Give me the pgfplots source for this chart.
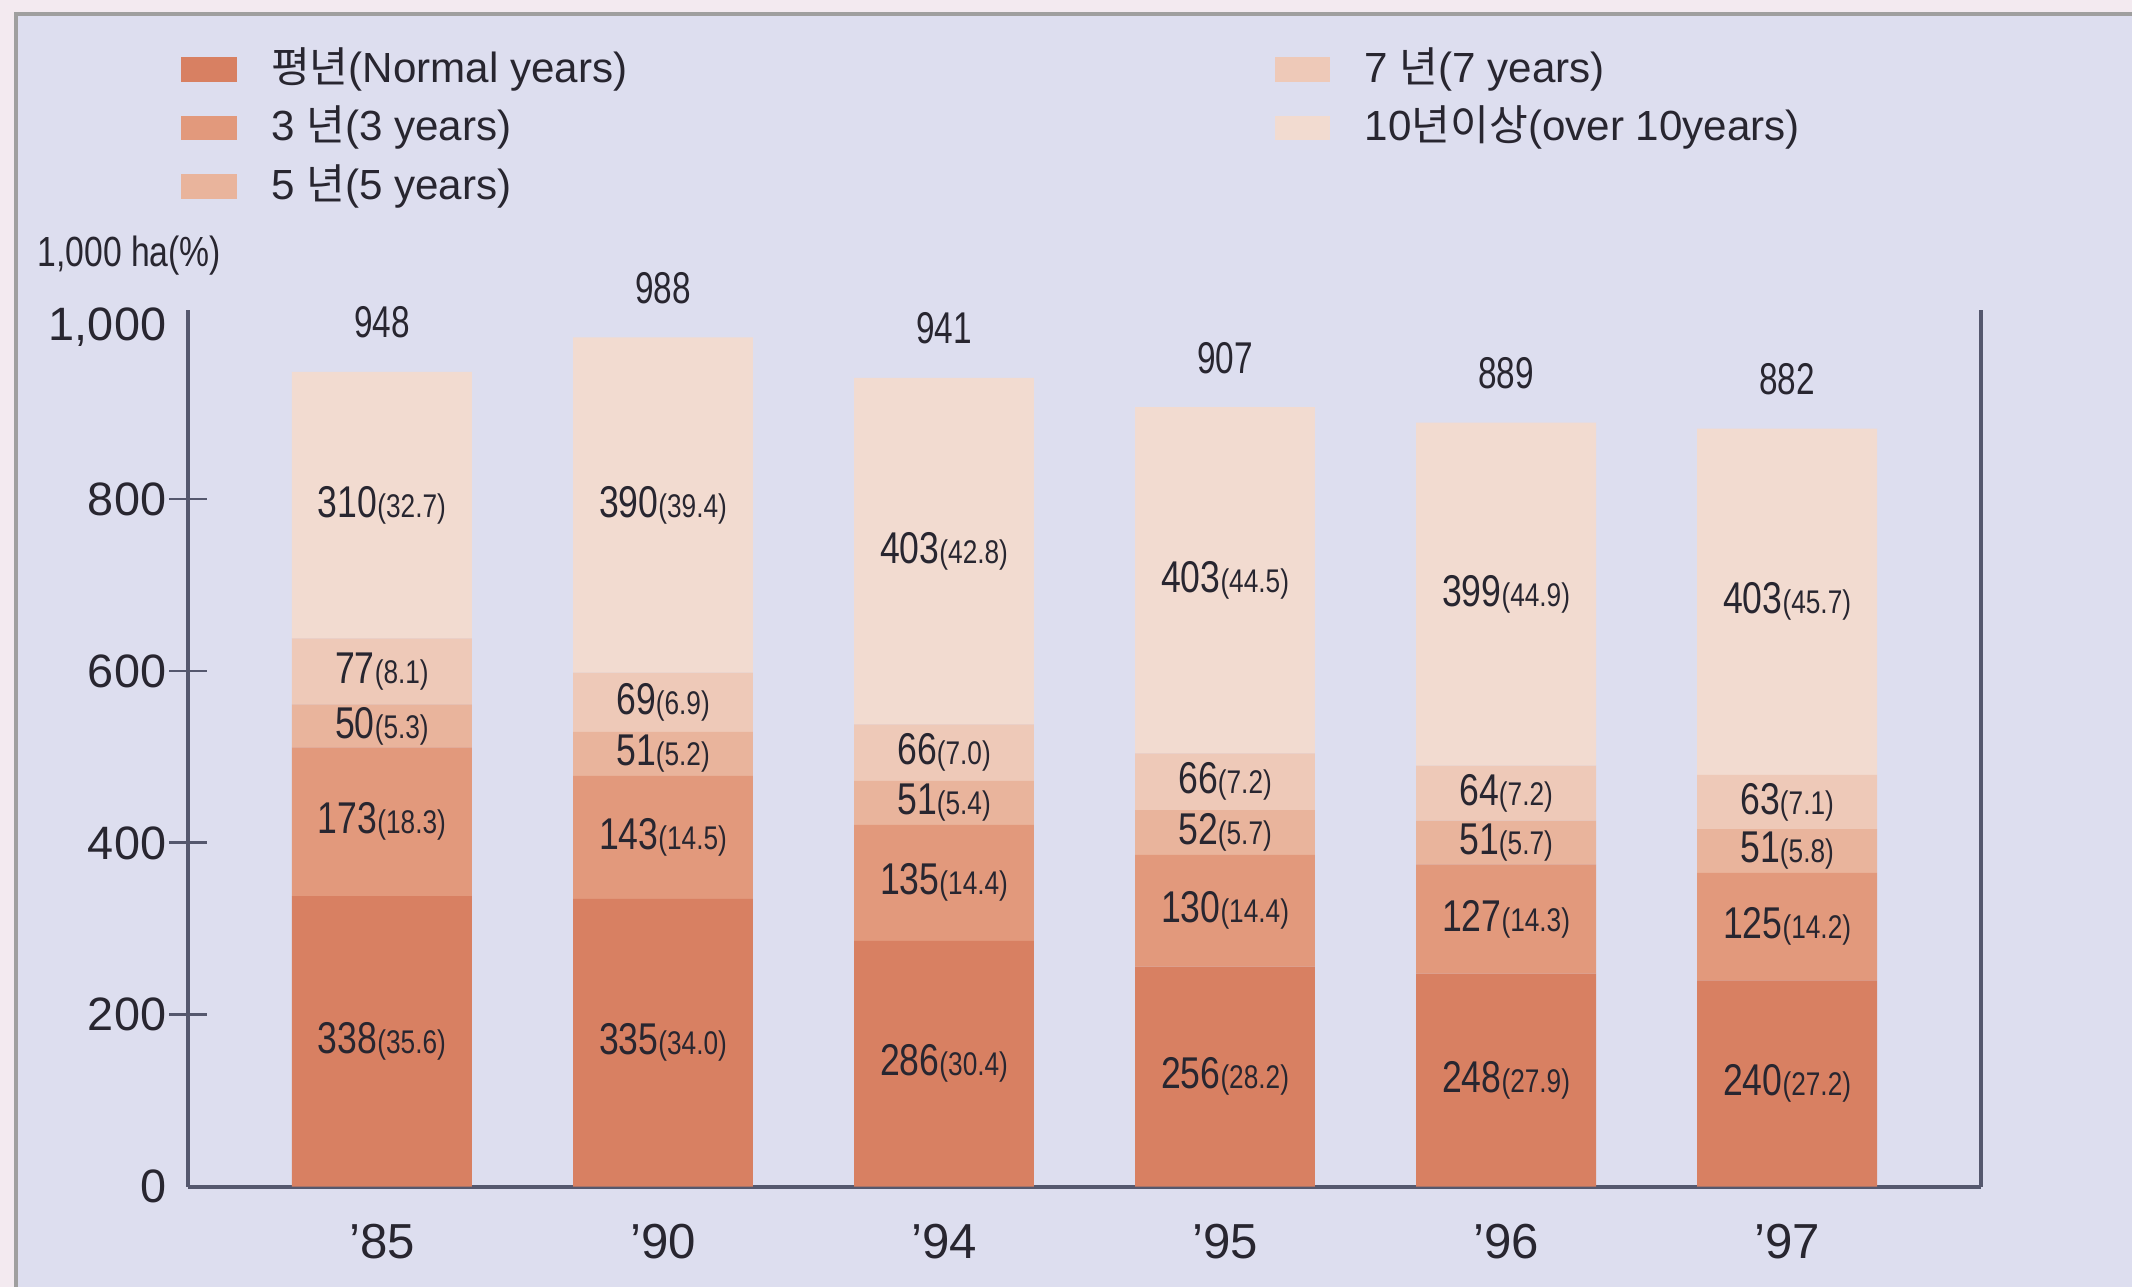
\documentclass[border=0pt]{standalone}
\usepackage{fontspec}
\setmainfont{Liberation Sans}
\newfontfamily\cjk{Noto Sans CJK KR}
\usepackage{graphicx}
\usepackage{pgfplots}
\pgfplotsset{compat=1.18}
\definecolor{bg}{RGB}{221,222,239}
\definecolor{outerbg}{RGB}{243,234,240}
\definecolor{c1}{RGB}{216,128,98}
\definecolor{c2}{RGB}{226,153,124}
\definecolor{c3}{RGB}{233,180,156}
\definecolor{c4}{RGB}{238,201,184}
\definecolor{c5}{RGB}{242,219,208}
\definecolor{axc}{RGB}{85,88,110}
\definecolor{txt}{RGB}{40,38,48}
\newcommand{\lab}[2]{\scalebox{0.8}[1]{\fontsize{9.5}{10}\selectfont #1\fontsize{7}{8}\selectfont(#2)}}
\newcommand{\tot}[1]{\scalebox{0.75}[1]{\fontsize{9.5}{10}\selectfont #1}}
\begin{document}
\begin{tikzpicture}
\useasboundingbox (-1.411,-0.751) rectangle (14.589,8.906);
\fill[outerbg] (-1.411,-0.751) rectangle (14.589,8.906);
\filldraw[fill=bg, draw=gray!75, line width=0.8pt] (-1.291,-1.0) rectangle (15.0,8.801);
\begin{axis}[
  at={(0,0)}, anchor=south west,
  scale only axis, width=13.456cm, height=6.58cm,
  ybar stacked, bar width=0.64,
  xmin=-0.69, xmax=5.69, ymin=0, ymax=1020,
  axis x line*=bottom, axis y line*=left,
  axis line style={axc, line width=0.8pt},
  xtick={0,1,2,3,4,5},
  xticklabels={’85,’90,’94,’95,’96,’97},
  x tick style={draw=none},
  xticklabel style={font=\fontsize{10.5}{12}\selectfont, text=txt, yshift=-0.02cm},
  ytick={200,400,600,800},
  yticklabels={200,400,600,800},
  extra y ticks={0,1000},
  extra y tick labels={0,{1,000}},
  extra y tick style={major tick style={draw=none}},
  tick align=center, major tick length=0.28cm,
  y tick style={axc, line width=0.6pt},
  yticklabel style={font=\fontsize{10}{12}\selectfont, text=txt, xshift=0.1cm},
  ylabel={\scalebox{0.8}[1]{1,000 ha(\%)}},
  every axis y label/.style={at={(axis description cs:0,1)}, anchor=center, xshift=-0.44cm, yshift=0.41cm, font=\fontsize{9}{10}\selectfont, text=txt},
  clip=false,
]
\addplot[fill=c1, draw=none] coordinates {(0,338) (1,335) (2,286) (3,256) (4,248) (5,240)};
\addplot[fill=c2, draw=none] coordinates {(0,173) (1,143) (2,135) (3,130) (4,127) (5,125)};
\addplot[fill=c3, draw=none] coordinates {(0,50) (1,51) (2,51) (3,52) (4,51) (5,51)};
\addplot[fill=c4, draw=none] coordinates {(0,77) (1,69) (2,66) (3,66) (4,64) (5,63)};
\addplot[fill=c5, draw=none] coordinates {(0,310) (1,390) (2,403) (3,403) (4,399) (5,403)};
\draw[axc, line width=0.8pt] (rel axis cs:1,0) -- (rel axis cs:1,1);
\end{axis}
\begin{axis}[
  at={(0,0)}, anchor=south west,
  scale only axis, width=13.456cm, height=6.58cm,
  xmin=-0.69, xmax=5.69, ymin=0, ymax=1020,
  hide axis, clip=false,
  legend columns=2, legend cell align=left,
  legend style={at={(axis description cs:0,1)}, anchor=north west, xshift=-0.05cm, yshift=2.0cm,
    draw=none, fill=none, inner sep=0pt, outer sep=0pt, row sep=0.05cm,
    font=\fontsize{9}{11}\selectfont, text=txt,
    nodes={inner sep=0.03cm, text height=0.26cm, text depth=0.07cm},
    /tikz/every odd column/.append style={column sep=0.23cm},
    /tikz/every even column/.append style={column sep=4.83cm}},
]
\addlegendimage{legend image code/.code={\fill[c1] (0cm,-0.085cm) rectangle (0.4cm,0.085cm);}}
\addlegendentry{{\cjk 평년}(Normal years)}
\addlegendimage{legend image code/.code={\fill[c4] (0cm,-0.085cm) rectangle (0.4cm,0.085cm);}}
\addlegendentry{7 {\cjk 년}(7 years)}
\addlegendimage{legend image code/.code={\fill[c2] (0cm,-0.085cm) rectangle (0.4cm,0.085cm);}}
\addlegendentry{3 {\cjk 년}(3 years)}
\addlegendimage{legend image code/.code={\fill[c5] (0cm,-0.085cm) rectangle (0.4cm,0.085cm);}}
\addlegendentry{10{\cjk 년이상}(over 10years)}
\addlegendimage{legend image code/.code={\fill[c3] (0cm,-0.085cm) rectangle (0.4cm,0.085cm);}}
\addlegendentry{5 {\cjk 년}(5 years)}
\addplot[draw=none, mark=none, forget plot, nodes near coords, point meta=explicit symbolic,
  every node near coord/.append style={anchor=center, text=txt, inner sep=0pt}] coordinates {
 (0,169) [\lab{338}{35.6}] (0,424.5) [\lab{173}{18.3}] (0,536) [\lab{50}{5.3}] (0,599.5) [\lab{77}{8.1}] (0,793) [\lab{310}{32.7}]
 (1,167.5) [\lab{335}{34.0}] (1,406.5) [\lab{143}{14.5}] (1,503.5) [\lab{51}{5.2}] (1,563.5) [\lab{69}{6.9}] (1,793) [\lab{390}{39.4}]
 (2,143) [\lab{286}{30.4}] (2,353.5) [\lab{135}{14.4}] (2,446.5) [\lab{51}{5.4}] (2,505) [\lab{66}{7.0}] (2,739.5) [\lab{403}{42.8}]
 (3,128) [\lab{256}{28.2}] (3,321) [\lab{130}{14.4}] (3,412) [\lab{52}{5.7}] (3,471) [\lab{66}{7.2}] (3,705.5) [\lab{403}{44.5}]
 (4,124) [\lab{248}{27.9}] (4,311.5) [\lab{127}{14.3}] (4,400.5) [\lab{51}{5.7}] (4,458) [\lab{64}{7.2}] (4,689.5) [\lab{399}{44.9}]
 (5,120) [\lab{240}{27.2}] (5,302.5) [\lab{125}{14.2}] (5,390.5) [\lab{51}{5.8}] (5,447.5) [\lab{63}{7.1}] (5,680.5) [\lab{403}{45.7}]
};
\addplot[draw=none, mark=none, forget plot, nodes near coords, point meta=explicit symbolic,
  every node near coord/.append style={anchor=center, yshift=0.37cm, text=txt, inner sep=0pt}] coordinates {
 (0,948) [\tot{948}] (1,988) [\tot{988}] (2,941) [\tot{941}] (3,907) [\tot{907}] (4,889) [\tot{889}] (5,882) [\tot{882}]
};
\end{axis}
\end{tikzpicture}
\end{document}
